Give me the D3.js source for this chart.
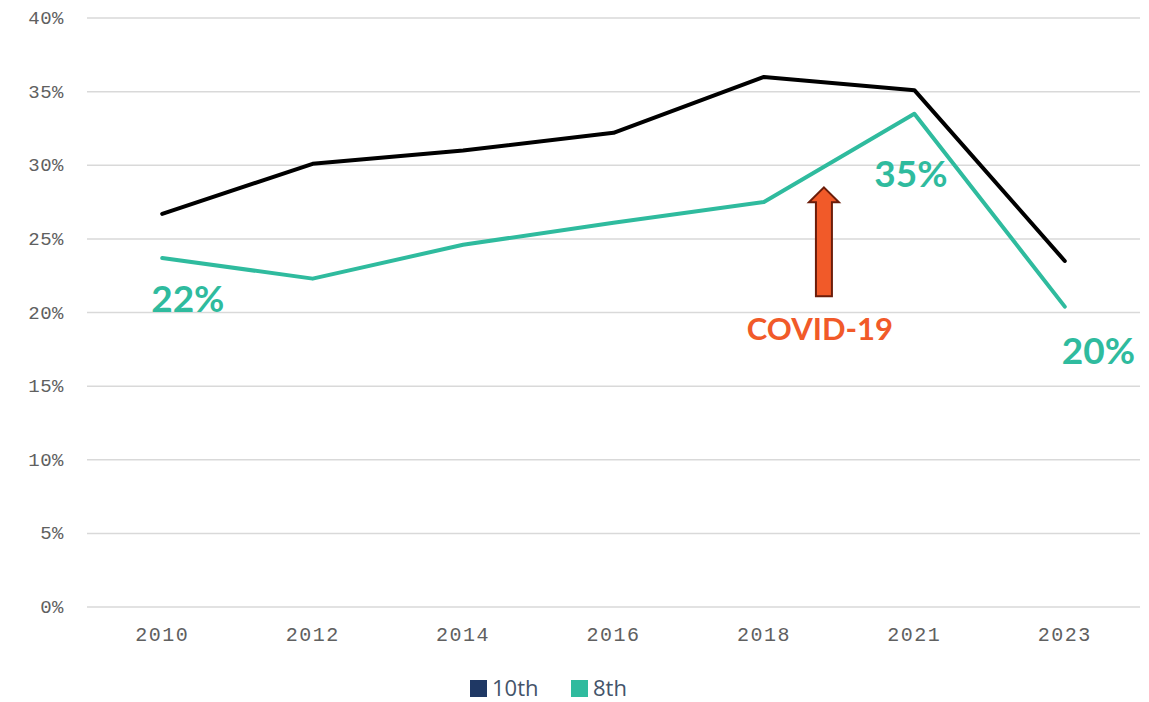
<!DOCTYPE html>
<html>
<head>
<meta charset="utf-8">
<script src="https://cdn.jsdelivr.net/npm/d3@7"></script>
<style>
  body { margin: 0; background: #fff; }
  svg { display: block; }
</style>
</head>
<body>
<div id="chart"></div>
<script>
const years = ['2010', '2012', '2014', '2016', '2018', '2021', '2023']
const tenth = [26.7, 30.1, 31.0, 32.2, 36.0, 35.1, 23.5]
const eighth = [23.7, 22.3, 24.6, 26.1, 27.5, 33.5, 20.4]
const yTicks = [0, 5, 10, 15, 20, 25, 30, 35, 40]
const labels = [
  { text: '22%', year: '2010', value: 23.7, dx: -11, dy: 54 },
  { text: '35%', year: '2021', value: 33.5, dx: -40, dy: 73 },
  { text: '20%', year: '2023', value: 20.4, dx: -3, dy: 57 }
]

const width = 1149, height = 702
const margin = { top: 18, right: 9, bottom: 95, left: 87 }

const svg = d3.select('#chart').append('svg')
  .attr('width', width)
  .attr('height', height)

const x = d3.scalePoint()
  .domain(years)
  .range([margin.left, width - margin.right])
  .padding(0.5)

const y = d3.scaleLinear()
  .domain([0, 40])
  .range([height - margin.bottom, margin.top])

// gridlines
svg.append('g')
  .selectAll('line')
  .data(yTicks)
  .enter().append('line')
  .attr('x1', margin.left)
  .attr('x2', width - margin.right)
  .attr('y1', (d) => y(d))
  .attr('y2', (d) => y(d))
  .attr('stroke', '#d9d9d9')
  .attr('stroke-width', 1.5)

// y axis labels
svg.append('g')
  .selectAll('text')
  .data(yTicks)
  .enter().append('text')
  .attr('x', 64)
  .attr('y', (d) => y(d) + 6)
  .attr('text-anchor', 'end')
  .attr('font-family', '"Liberation Mono", monospace')
  .attr('font-size', 19)
  .attr('letter-spacing', 0.5)
  .attr('fill', '#606060')
  .text((d) => d + '%')

// x axis labels
svg.append('g')
  .selectAll('text')
  .data(years)
  .enter().append('text')
  .attr('x', (d) => x(d))
  .attr('y', 641)
  .attr('text-anchor', 'middle')
  .attr('font-family', '"Liberation Mono", monospace')
  .attr('font-size', 20)
  .attr('letter-spacing', 1.5)
  .attr('fill', '#606060')
  .text((d) => d)

const line = d3.line()
  .x((d, i) => x(years[i]))
  .y((d) => y(d))

svg.append('path')
  .datum(tenth)
  .attr('d', line)
  .attr('fill', 'none')
  .attr('stroke', '#000')
  .attr('stroke-width', 4)
  .attr('stroke-linejoin', 'round')
  .attr('stroke-linecap', 'round')

svg.append('path')
  .datum(eighth)
  .attr('d', line)
  .attr('fill', 'none')
  .attr('stroke', '#2fbb9e')
  .attr('stroke-width', 4)
  .attr('stroke-linejoin', 'round')
  .attr('stroke-linecap', 'round')

// value labels
svg.append('g')
  .selectAll('text')
  .data(labels)
  .enter().append('text')
  .attr('x', (d) => x(d.year) + d.dx)
  .attr('y', (d) => y(d.value) + d.dy)
  .attr('font-family', 'Lato, sans-serif')
  .attr('font-weight', 'bold')
  .attr('font-size', 37)
  .attr('fill', '#2fbb9e')
  .text((d) => d.text)

// COVID arrow
const ax = x('2018') + 60
const tipY = y(28.5), baseY = y(21.1)
svg.append('path')
  .attr('d', `M${ax},${tipY} L${ax + 15},${tipY + 15} L${ax + 8},${tipY + 15} L${ax + 8},${baseY} L${ax - 8},${baseY} L${ax - 8},${tipY + 15} L${ax - 15},${tipY + 15} Z`)
  .attr('fill', '#f15a29')
  .attr('stroke', '#6b1d0a')
  .attr('stroke-width', 2)

svg.append('text')
  .attr('x', ax - 4)
  .attr('y', 340)
  .attr('text-anchor', 'middle')
  .attr('font-family', 'Lato, sans-serif')
  .attr('font-weight', 'bold')
  .attr('font-size', 31)
  .attr('fill', '#f15a29')
  .text('COVID-19')

// legend
const legend = [
  { name: '10th', color: '#1f3864', x: 470 },
  { name: '8th', color: '#2fbb9e', x: 571 }
]
const lg = svg.append('g')
lg.selectAll('rect')
  .data(legend)
  .enter().append('rect')
  .attr('x', (d) => d.x)
  .attr('y', 680)
  .attr('width', 17)
  .attr('height', 17)
  .attr('fill', (d) => d.color)
lg.selectAll('text')
  .data(legend)
  .enter().append('text')
  .attr('x', (d) => d.x + 22)
  .attr('y', 696)
  .attr('font-family', '"Open Sans", sans-serif')
  .attr('font-size', 22)
  .attr('fill', '#44546a')
  .text((d) => d.name)
</script>
</body>
</html>
